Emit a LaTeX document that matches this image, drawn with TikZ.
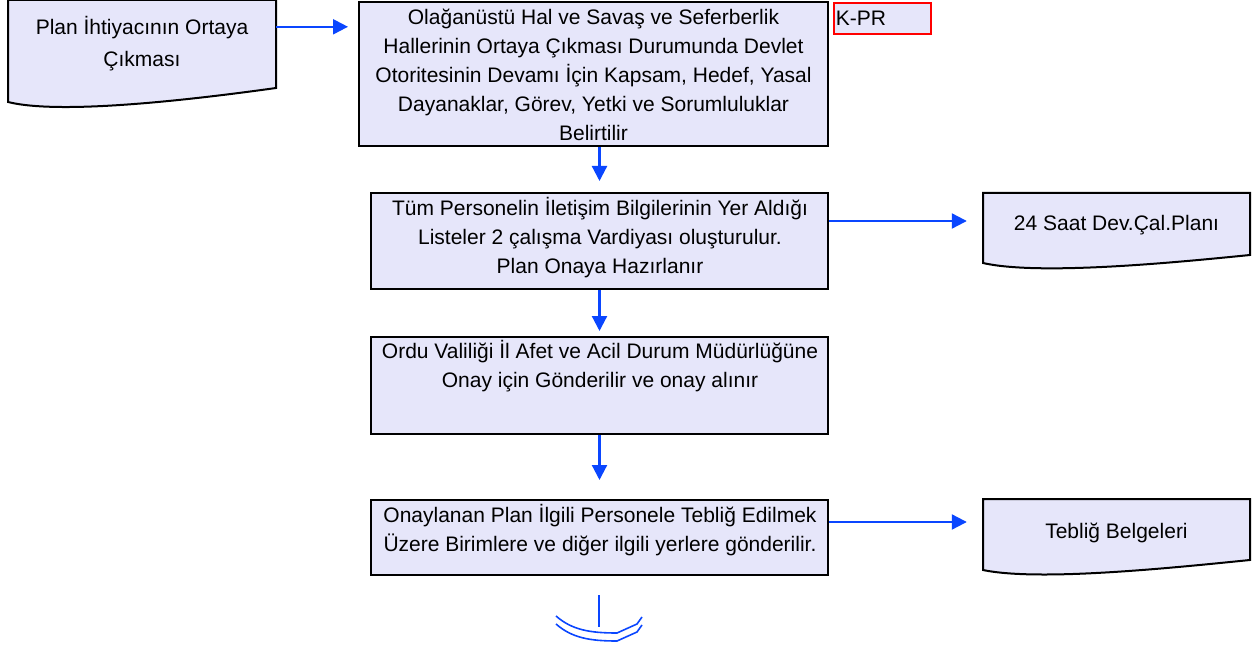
\documentclass[tikz,border=0pt]{standalone}
\usepackage{fontspec}
\setmainfont{Liberation Sans}
\usetikzlibrary{arrows.meta,calc}
\definecolor{boxfill}{RGB}{230,230,250}
\definecolor{flowblue}{RGB}{10,70,255}
\begin{document}
\begin{tikzpicture}[x=1pt,y=-1pt,
  box/.style={draw=black,fill=boxfill,line width=2pt,minimum width=457,inner sep=0pt},
  txt/.style={align=center,font=\fontsize{21}{29}\selectfont,inner sep=0pt},
  docnode/.style={txt,minimum width=267,inner sep=0pt},
  doc/.style={draw=black,fill=boxfill,line width=2pt},
  flow/.style={draw=flowblue,line width=2.2pt,-{Triangle[length=15pt,width=15pt]}}]
\useasboundingbox (0,0) rectangle (1254,650);
\draw[doc] (8,0) -- (276,0) -- (276,88) .. controls (190,100) and (60,115) .. (8,102) -- cycle;
\draw[doc] (983,193) -- (1250,193) -- (1250,255) .. controls (1180,262) and (1040,276) .. (983,263) -- cycle;
\draw[doc] (983,499) -- (1250,499) -- (1250,560) .. controls (1180,567) and (1040,582) .. (983,570) -- cycle;
\node[docnode,minimum width=268,minimum height=88,font=\fontsize{21}{32}\selectfont] (d1) at (142,44) {Plan İhtiyacının Ortaya\\Çıkması};
\node[docnode,minimum height=62] (d2) at (1116.5,224) {};
\node[docnode] (d2t) at (1116.5,225) {24 Saat Dev.Çal.Planı};
\node[docnode,minimum height=61] (d3) at (1116.5,529.5) {};
\node[docnode] (d3t) at (1116.5,533) {Tebliğ Belgeleri};
\node[box,minimum width=469,minimum height=144] (b1) at (593.5,74) {};
\node[box,minimum height=96] (b2) at (599.5,241) {};
\node[box,minimum height=97] (b3) at (599.5,385.5) {};
\node[box,minimum height=75] (b4) at (599.5,537.5) {};
\node[txt] (t1) at (593.5,75) {Olağanüstü Hal ve Savaş ve Seferberlik\\Hallerinin Ortaya Çıkması Durumunda Devlet\\Otoritesinin Devamı İçin Kapsam, Hedef, Yasal\\Dayanaklar, Görev, Yetki ve Sorumluluklar\\Belirtilir};
\node[txt] (t2) at (600,238) {Tüm Personelin İletişim Bilgilerinin Yer Aldığı\\Listeler 2 çalışma Vardiyası oluşturulur.\\Plan Onaya Hazırlanır};
\node[txt] (t3) at (600,366.5) {Ordu Valiliği İl Afet ve Acil Durum Müdürlüğüne\\Onay için Gönderilir ve onay alınır};
\node[txt] (t4) at (600,530.5) {Onaylanan Plan İlgili Personele Tebliğ Edilmek\\Üzere Birimlere ve diğer ilgili yerlere gönderilir.};
\node[draw=red,fill=boxfill,line width=1.6pt,anchor=north west,text width=93,inner xsep=2pt,inner ysep=0pt,minimum height=31,align=left,font=\fontsize{21}{24}\selectfont] (kpr) at (833,2) {K-PR};
\coordinate (a1) at ($(d1.north east)+(0,27)$);
\coordinate (a2) at ($(b2.north east)+(0,29)$);
\coordinate (a4) at ($(b4.north east)+(0,23)$);
\draw[flow,shorten >=10pt] (a1) -- (a1 -| b1.west);
\draw[flow,shorten >=11pt] (b2.north |- b1.south) -- (b2.north);
\draw[flow,shorten >=16pt] (a2) -- (a2 -| d2.west);
\draw[flow,shorten >=5pt] (b2.south) -- (b3.north);
\draw[flow,shorten >=19pt] (b3.south) -- (b4.north);
\draw[flow,shorten >=16pt] (a4) -- (a4 -| d3.west);
\draw[flowblue,line width=1.6pt] (599,595) -- (599,627);
\draw[flowblue,line width=1.6pt] (556,616) .. controls (572,630) and (590,633) .. (617,633) -- (637,624) -- (642,617);
\draw[flowblue,line width=1.6pt] (556,624) .. controls (572,638) and (590,641) .. (617,641) -- (637,632) -- (642,625);
\end{tikzpicture}
\end{document}
